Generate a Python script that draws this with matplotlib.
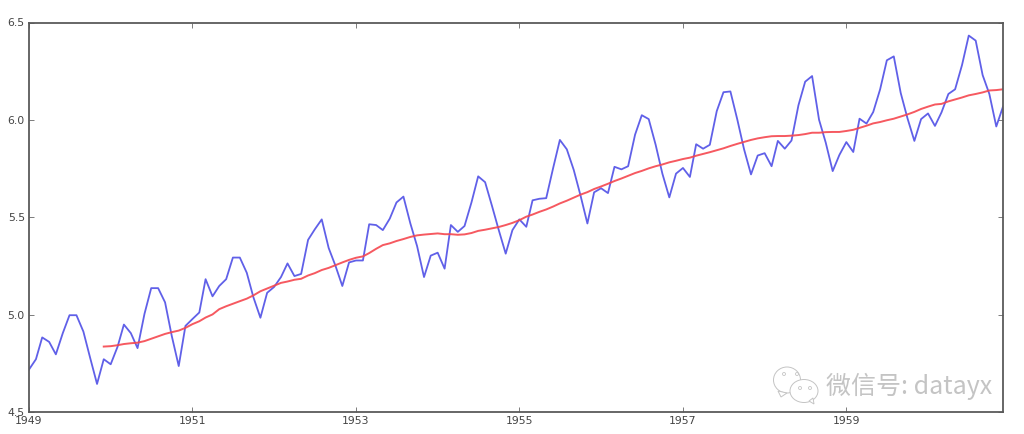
import matplotlib
matplotlib.use("Agg")
import matplotlib.pyplot as plt
import pandas as pd
from matplotlib.patches import Ellipse, Polygon

plt.rcParams['font.family'] = ['DejaVu Sans']

dates = pd.date_range('1949-01-01', periods=144, freq='MS')
series = [
 4.718,4.771,4.883,4.860,4.796,4.905,4.997,4.997,4.913,4.779,4.644,4.771,
 4.745,4.836,4.949,4.905,4.828,5.004,5.136,5.136,5.063,4.890,4.736,4.942,
 4.977,5.011,5.182,5.094,5.147,5.182,5.293,5.293,5.215,5.088,4.984,5.112,
 5.142,5.193,5.263,5.198,5.209,5.384,5.438,5.489,5.342,5.252,5.147,5.268,
 5.278,5.278,5.464,5.460,5.434,5.493,5.576,5.606,5.468,5.352,5.193,5.303,
 5.318,5.236,5.460,5.425,5.455,5.576,5.710,5.680,5.557,5.434,5.313,5.434,
 5.489,5.451,5.587,5.595,5.598,5.753,5.897,5.849,5.743,5.613,5.468,5.628,
 5.649,5.624,5.759,5.746,5.762,5.924,6.024,6.004,5.872,5.724,5.602,5.724,
 5.753,5.707,5.875,5.852,5.872,6.045,6.142,6.146,6.001,5.849,5.720,5.817,
 5.829,5.762,5.892,5.852,5.894,6.075,6.196,6.225,6.001,5.883,5.737,5.820,
 5.886,5.835,6.006,5.981,6.040,6.157,6.306,6.326,6.138,6.009,5.892,6.004,
 6.033,5.969,6.038,6.133,6.157,6.282,6.433,6.407,6.230,6.133,5.966,6.068]
trend = [
 4.836,
 4.838,4.843,4.849,4.853,4.856,4.864,4.876,4.888,4.901,4.910,4.918,4.932,
 4.951,4.966,4.985,5.001,5.028,5.043,5.056,5.069,5.082,5.099,5.120,5.134,
 5.148,5.163,5.170,5.179,5.184,5.201,5.213,5.229,5.240,5.254,5.268,5.281,
 5.292,5.299,5.316,5.338,5.357,5.366,5.378,5.388,5.399,5.407,5.411,5.414,
 5.417,5.413,5.413,5.410,5.412,5.419,5.430,5.436,5.443,5.450,5.460,5.471,
 5.485,5.503,5.514,5.528,5.540,5.555,5.571,5.585,5.601,5.616,5.629,5.645,
 5.658,5.672,5.686,5.699,5.713,5.727,5.738,5.751,5.762,5.771,5.782,5.790,
 5.799,5.806,5.816,5.825,5.834,5.844,5.854,5.866,5.877,5.887,5.897,5.905,
 5.911,5.916,5.917,5.917,5.919,5.922,5.927,5.934,5.934,5.937,5.938,5.938,
 5.943,5.949,5.959,5.970,5.982,5.989,5.998,6.006,6.017,6.028,6.041,6.056,
 6.068,6.079,6.082,6.095,6.105,6.115,6.126,6.133,6.141,6.151,6.153,6.157]
yticks = [4.5, 5.0, 5.5, 6.0, 6.5]
xtick_years = [1949, 1951, 1953, 1955, 1957, 1959]
watermark = '微信号: datayx'

W, H = 1024, 434
fig = plt.figure(figsize=(W/100, H/100), dpi=100, facecolor='white')
ax = fig.add_axes([29/W, 1-412/H, (1003-29)/W, (412-22.5)/H])
ax.plot(dates, series, color='#4f4fe6', lw=1.3, alpha=0.9)
ax.plot(dates[11:], trend, color='#f5474f', lw=1.4, alpha=0.9)
ax.set_xlim(dates[0], dates[-1])
ax.set_ylim(4.5, 6.5)
ax.set_yticks(yticks)
ax.set_yticklabels([f'{v:.1f}' for v in yticks])
ax.set_xticks([pd.Timestamp(f'{y}-01-01') for y in xtick_years])
ax.set_xticklabels([str(y) for y in xtick_years])
ax.tick_params(axis='both', direction='in', length=3.5, width=0.6, color='#666666',
               labelsize=7.8, labelcolor='#444444', pad=3, top=True, right=True)
for s in ax.spines.values():
    s.set_linewidth(1.3)
    s.set_color('#5a5a5a')

# watermark
fig.text(826/W, 1-386/H, watermark, fontsize=18, color='#c4c4c4', va='center', ha='left',
         family=['Noto Sans CJK SC', 'DejaVu Sans'], fontweight='light')
ov = fig.add_axes([0, 0, 1, 1], facecolor='none')
ov.set_xlim(0, W); ov.set_ylim(H, 0); ov.axis('off')
ec = '#c4c4c4'
ov.add_patch(Ellipse((787, 380), 27, 26, fc='white', ec=ec, lw=0.7))
ov.add_patch(Polygon([(778, 391), (781, 397), (787, 393)], fc='white', ec=ec, lw=0.7))
ov.add_patch(Ellipse((804, 391), 28, 23, fc='white', ec=ec, lw=0.7))
ov.add_patch(Polygon([(809, 401), (814, 404), (813, 398)], fc='white', ec=ec, lw=0.7))
for x, y in [(784, 374), (797, 374), (800, 388), (810, 388)]:
    ov.add_patch(Ellipse((x, y), 3, 3, fc='none', ec=ec, lw=0.6))

fig.savefig('out.png', dpi=100, facecolor='white')
